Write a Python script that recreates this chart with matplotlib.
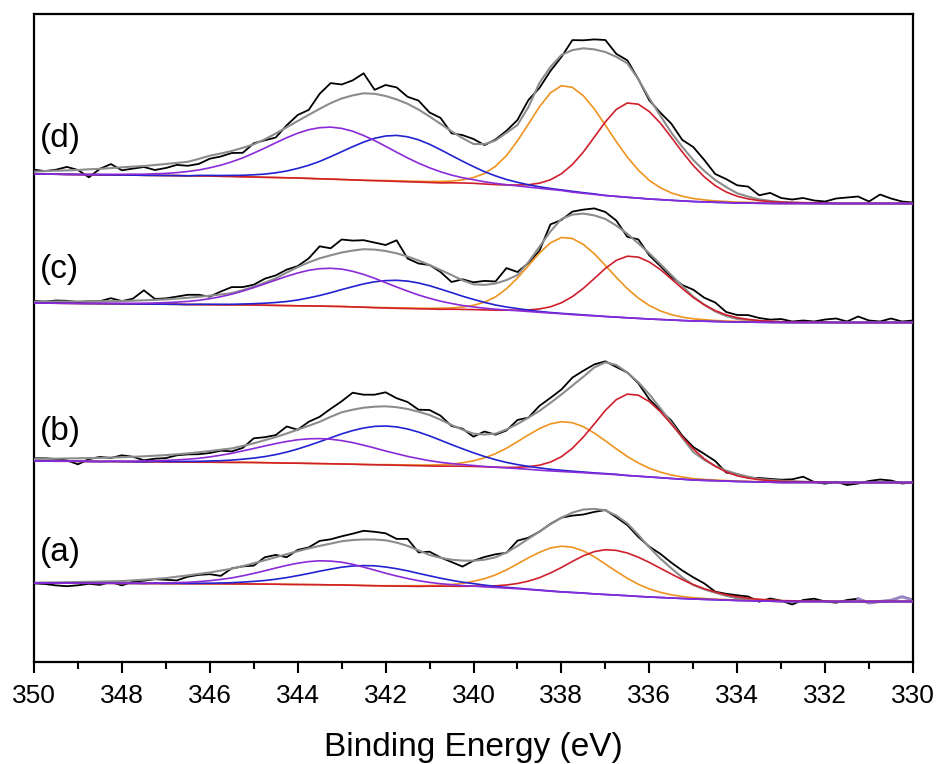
import numpy as np
import matplotlib
matplotlib.use("Agg")
import matplotlib.pyplot as plt
from matplotlib.ticker import MultipleLocator

plt.rcParams['font.family'] = ['Liberation Sans', 'DejaVu Sans']

# binding energy grid (eV), 0.25 eV steps from 350 down to 330
energy = np.linspace(350, 330, 81)

# ---------------- (d) ----------------
bg_d = [488, 487.9, 487.8, 487.6, 487.5, 487.4, 487.2, 487.1, 487, 486.9,
        486.7, 486.6, 486.5, 486.4, 486.2, 486.1, 486, 485.7, 485.5, 485.2,
        485, 484.7, 484.5, 484.2, 484, 483.6, 483.2, 482.9, 482.5, 482.1,
        481.7, 481.4, 481, 480.6, 480.2, 479.9, 479.5, 479.1, 478.7, 478.4,
        478, 477.2, 476.5, 475.7, 475, 474, 473, 472, 471, 469.9,
        468.7, 467.6, 466.5, 465.6, 464.7, 463.9, 463, 462.4, 461.7, 461.1,
        460.5, 460.1, 459.7, 459.4, 459, 458.9, 458.7, 458.6, 458.5] + [458.5] * 12
orange_d = [0] * 32 + [0.5, 0.6, 0.7, 0.8, 1.0, 1.5, 2.2, 3.7, 6.5, 11.3, 19.2, 30.7, 46.1, 64.0, 82.2, 97.1, 105.3,
                       104.7, 97.5, 85.4, 70.3, 54.7, 40.2, 28.0, 18.6, 11.9, 7.4, 4.7, 3.0, 2.0, 1.4, 1.1, 0.9, 0.8, 0.6] + [0] * 14
red_d = [0] * 38 + [0.5, 0.6, 0.7, 0.8, 0.9, 1.3, 2.0, 3.3, 5.8, 10.2, 17.2, 27.6, 41.3, 57.4, 73.6, 87.0, 94.3,
                    93.9, 87.4, 76.6, 63.0, 49.0, 36.0, 25.1, 16.6, 10.6, 6.7, 4.2, 2.7, 1.8, 1.3, 1.0, 0.8, 0.7, 0.6] + [0] * 8
blue_d = [0] * 15 + [0.5, 0.6, 0.8, 1.1, 1.5, 2.2, 3.2, 4.7, 6.8, 9.6, 13.1, 17.4, 22.4, 27.8, 33.2, 38.2, 42.3, 45.0, 46,
                     45.0, 42.3, 38.2, 33.2, 27.8, 22.4, 17.4, 13.1, 9.6, 6.8, 4.7, 3.2, 2.2, 1.5, 1.1, 0.8, 0.6, 0.5] + [0] * 29
purple_d = [0] * 6 + [0.5, 0.6, 0.7, 0.9, 1.1, 1.6, 2.1, 3.0, 4.3, 5.9, 8.2, 11.1, 14.7, 18.9, 23.9, 29.2, 34.7, 40.1, 44.8, 48.7, 51.1, 52,
                      51.1, 48.7, 44.8, 40.1, 34.7, 29.2, 23.9, 18.9, 14.7, 11.1, 8.2, 5.9, 4.3, 3.0, 2.1, 1.6, 1.1, 0.9, 0.7, 0.6, 0.5] + [0] * 32
envelope_d = [2.3, 3, 3.5, 4, 4.5, 5.3, 6, 6.8, 7.7, 8.5,
              9.3, 10.4, 11.5, 12.7, 14, 17, 20.3, 22.8, 25.5, 29,
              32.7, 38, 44, 50.5, 57, 63.5, 70, 76, 81, 84.5,
              87, 86.8, 85, 82, 78, 72.5, 66, 59, 52, 45.5,
              40, 40.7, 45, 53.5, 62, 81, 106, 123, 136, 142,
              145, 145, 143.5, 139.5, 134, 119, 100.7, 84, 67.7, 54,
              41.5, 31, 22.3, 15.5, 9.7, 6.5, 4, 2.5, 1.5, 1,
              0.5, 0, 0, 0, 0, 0, 0, 0, 0, 0, 0]
resid_d = [2, 0, 1, 3.5, 0, -8, 0, 4, -3, -2,
           -1, -5, -4, -2, -4, -5, -3, -3, -2, -5,
           1, -1, -4, 2, 6, 5, 15, 20, 14, 15,
           20, 4, 11, 12, 7, 9, 4, 6, -2, 3,
           5, -1, 1, 2, 5, 7, -5, -4, -2, 10,
           8, 10, 12, 3, 3, 0, -2, 3, 9, 7,
           13, 11, 6, 8, 8, 10, 4, 8, 4, 3,
           5, 3, 2, 5, 6, 7, 2, 9, 5, 2, 1]

# ---------------- (c) ----------------
bg_c = [359, 358.9, 358.8, 358.7, 358.6, 358.5, 358.4, 358.3, 358.2, 358.1,
        358, 357.9, 357.8, 357.7, 357.5, 357.4, 357.3, 357.2, 357.1, 357.1,
        357, 356.8, 356.6, 356.4, 356.2, 356.1, 355.9, 355.7, 355.5, 355.1,
        354.8, 354.4, 354, 353.7, 353.5, 353.2, 353, 352.7, 352.5, 352.2,
        352, 351.6, 351.2, 350.9, 350.5, 349.9, 349.2, 348.6, 348, 347.4,
        346.7, 346.1, 345.5, 344.9, 344.2, 343.6, 343, 342.5, 342, 341.5,
        341, 340.8, 340.5, 340.2, 340, 339.9, 339.7, 339.6, 339.5] + [339.5] * 12
orange_c = [0] * 32 + [0.4, 0.5, 0.5, 0.6, 0.7, 1.1, 1.6, 2.7, 4.7, 8.2, 13.9, 22.3, 33.5, 46.5, 59.7, 70.5, 76.5,
                       76.1, 70.8, 62.1, 51.1, 39.7, 29.2, 20.3, 13.5, 8.6, 5.4, 3.4, 2.2, 1.5, 1.0, 0.8, 0.6, 0.6, 0.5] + [0] * 14
red_c = [0] * 38 + [0.3, 0.4, 0.4, 0.5, 0.6, 0.9, 1.3, 2.2, 3.8, 6.6, 11.2, 18.0, 27.0, 37.4, 48.1, 56.8, 61.6,
                    61.3, 57.0, 50.0, 41.1, 32.0, 23.5, 16.4, 10.9, 6.9, 4.3, 2.7, 1.7, 1.2, 0.8, 0.7, 0.5, 0.5, 0.4] + [0] * 8
blue_c = [0] * 15 + [0.3, 0.4, 0.5, 0.6, 0.9, 1.3, 2.0, 2.9, 4.1, 5.8, 8.0, 10.6, 13.6, 16.9, 20.2, 23.3, 25.8, 27.4, 28,
                     27.4, 25.8, 23.3, 20.2, 16.9, 13.6, 10.6, 8.0, 5.8, 4.1, 2.9, 2.0, 1.3, 0.9, 0.6, 0.5, 0.4, 0.3] + [0] * 29
purple_c = [0] * 6 + [0.3, 0.4, 0.5, 0.6, 0.8, 1.1, 1.6, 2.2, 3.1, 4.3, 6.0, 8.1, 10.7, 13.8, 17.4, 21.3, 25.3, 29.3, 32.8, 35.6, 37.4, 38,
                      37.4, 35.6, 32.8, 29.3, 25.3, 21.3, 17.4, 13.8, 10.7, 8.1, 6.0, 4.3, 3.1, 2.2, 1.6, 1.1, 0.8, 0.6, 0.5, 0.4, 0.3] + [0] * 32
envelope_c = [1.3, 1.5, 1.7, 1.8, 2, 2.2, 2.4, 2.5, 2.7, 3.2,
              3.7, 4.2, 4.8, 5.7, 6.7, 7.8, 9, 10.3, 11.8, 14.8,
              18.3, 22.5, 27, 33, 38.7, 43.5, 47.8, 51, 54, 56.3,
              58, 58, 57, 55, 52, 48.3, 44, 39.3, 34.5, 29.5,
              25.7, 25.5, 27.3, 31, 36.5, 50, 66, 82, 95, 100,
              101.7, 100.5, 97.5, 91.5, 84, 75, 65.7, 55.5, 45, 34.5,
              24.3, 16.5, 10, 5.8, 3, 2, 1.3, 0.8, 0.5, 0,
              0, 0, 0, 0, 0, 0, 0, 0, 0, 0, 0]
resid_c = [0.7, 0, 1, 0.7, -0.7, 0, 0, 3, 0, 2,
           10, 1, 1, 2, 3, 2, -1, 3, 6, 3,
           2, 4, 3, 3, 1, 4, 12, 7, 13, 10,
           9, 7, 6, 13, -2, -3, 0, -2, -7, 1,
           2, 4, 2, 12, 3, -1, -4, 7, -1, 3,
           4, 7, 7, 5, -3, 4, -2, -2, -2, 1,
           7, 7, 9, 4, 4, 5, 3, 2, 3, 1,
           2, 1, 3, 4, 1, 6, 2, 1, 4, 1, 2]

# ---------------- (b) ----------------
bg_b = [201, 200.9, 200.8, 200.8, 200.7, 200.6, 200.5, 200.5, 200.4, 200.3,
        200.2, 200.2, 200.1, 200, 199.9, 199.8, 199.8, 199.7, 199.6, 199.6,
        199.5, 199.3, 199.1, 198.9, 198.8, 198.6, 198.4, 198.2, 198, 197.8,
        197.5, 197.3, 197, 196.8, 196.5, 196.3, 196, 195.8, 195.5, 195.3,
        195, 194.5, 194, 193.5, 193, 192.4, 191.8, 191.1, 190.5, 189.9,
        189.3, 188.6, 188, 187.3, 186.5, 185.8, 185, 184.3, 183.5, 182.8,
        182, 181.6, 181.3, 180.9, 180.5, 180.3, 180, 179.8, 179.5] + [179.5] * 12
orange_b = [0] * 32 + [0.4, 0.4, 0.6, 0.7, 1.0, 1.5, 2.4, 3.9, 6.2, 9.6, 14.3, 20.3, 27.3, 34.7, 41.6, 47.0, 49.8,
                       49.4, 46.0, 40.3, 33.2, 25.8, 19.0, 13.2, 8.8, 5.6, 3.5, 2.2, 1.4, 1.0, 0.7, 0.5, 0.4, 0.4, 0.3] + [0] * 14
red_b = [0] * 38 + [0.4, 0.5, 0.6, 0.7, 0.8, 1.1, 1.7, 2.9, 5.0, 8.8, 14.8, 23.8, 35.7, 49.5, 63.6, 75.1, 81.4,
                    81.0, 75.4, 66.1, 54.4, 42.3, 31.1, 21.6, 14.4, 9.2, 5.7, 3.6, 2.3, 1.6, 1.1, 0.9, 0.7, 0.6, 0.5] + [0] * 8
blue_b = [0] * 11 + [0.4, 0.4, 0.5, 0.7, 0.9, 1.2, 1.6, 2.3, 3.2, 4.4, 6.1, 8.3, 11.0, 14.2, 17.9, 21.9, 26.0, 30.1, 33.6, 36.5, 38.3, 39,
                     38.3, 36.5, 33.6, 30.1, 26.0, 21.9, 17.9, 14.2, 11.0, 8.3, 6.1, 4.4, 3.2, 2.3, 1.6, 1.2, 0.9, 0.7, 0.5, 0.4, 0.4] + [0] * 27
purple_b = [0] * 7 + [0.3, 0.4, 0.6, 0.8, 1.0, 1.5, 2.1, 2.9, 3.9, 5.3, 7.1, 9.1, 11.5, 14.0, 16.7, 19.3, 21.6, 23.4, 24.6, 25,
                      24.6, 23.4, 21.6, 19.3, 16.7, 14.0, 11.5, 9.1, 7.1, 5.3, 3.9, 2.9, 2.1, 1.5, 1.0, 0.8, 0.6, 0.4, 0.3] + [0] * 35
envelope_b = [2, 2.3, 2.5, 2.8, 3, 3.3, 3.6, 4, 4.3, 4.9,
              5.5, 6.1, 6.8, 7.7, 8.7, 10, 11.2, 12.6, 14, 16.5,
              19.2, 22.5, 25.8, 29.6, 33.5, 37.6, 41.8, 47, 51.7, 54.5,
              56.8, 58, 58.7, 58, 56.5, 54, 51, 46.5, 41.5, 37,
              33.3, 33, 34.3, 39, 45, 52, 59.3, 68, 77, 86.5,
              96, 106, 111.7, 109.7, 103, 94, 82.7, 69.5, 56, 41.5,
              28, 20.5, 14.7, 10.5, 7.5, 5, 3, 2.3, 1.8, 1.2,
              0.8, 0.5, 0.3, 0, 0, 0, 0, 0, 0, 0, 0]
resid_b = [0.7, 0.5, -0.3, -2, -6, -1, 1, -0.5, 2, 0,
           -4, -3, -3, -1, -1, -2, -2, -1, -3, -2,
           5, 3, 2, 7, 0, 4, 5, 8, 11, 17,
           13, 12, 14, 9, 7, 2, 5, 4, -1, 1,
           -3, 3, -1, -1, 4, 0, 5, 5, 5, 8,
           6, 3, 1, -2, 0, -1, -5, -2, 2, 2,
           5, 6, 5, -2, 0, -1, 1, 1, 1, 2,
           5, 0, -1.5, 0.7, -2.5, -1, 1.5, 3, 2, -1, 0]

# ---------------- (a) ----------------
bg_a = [79, 79, 78.9, 78.9, 78.8, 78.8, 78.7, 78.7, 78.6, 78.6,
        78.5, 78.5, 78.4, 78.4, 78.3, 78.3, 78.2, 78.2, 78.1, 78.1,
        78, 77.9, 77.8, 77.6, 77.5, 77.4, 77.3, 77.1, 77, 76.8,
        76.5, 76.3, 76, 75.9, 75.8, 75.6, 75.5, 75.4, 75.3, 75.1,
        75, 74.5, 74, 73.5, 73, 72.3, 71.5, 70.8, 70, 69.4,
        68.8, 68.1, 67.5, 66.9, 66.3, 65.6, 65, 64.5, 64, 63.5,
        63, 62.6, 62.3, 61.9, 61.5, 61.3, 61, 60.8, 60.5] + [60.5] * 12
orange_a = [0] * 32 + [0.3, 0.4, 0.5, 0.7, 0.9, 1.4, 2.2, 3.5, 5.7, 8.8, 13.1, 18.6, 25.1, 31.9, 38.2, 43.2, 45.8,
                       45.4, 42.3, 37.1, 30.5, 23.7, 17.4, 12.1, 8.1, 5.2, 3.2, 2.0, 1.3, 0.9, 0.6, 0.5, 0.4, 0.3, 0.3] + [0] * 14
red_a = [0] * 36 + [0.3, 0.4, 0.5, 0.6, 0.9, 1.4, 2.2, 3.5, 5.5, 8.6, 12.8, 18.2, 24.5, 31.2, 37.4, 42.3, 44.8,
                    44.7, 42.7, 39.2, 34.6, 29.3, 24.0, 18.9, 14.4, 10.7, 7.7, 5.4, 3.7, 2.5, 1.7, 1.2, 0.9, 0.7, 0.5, 0.5, 0.4] + [0] * 8
blue_a = [0] * 11 + [0.2, 0.2, 0.3, 0.3, 0.4, 0.6, 0.8, 1.2, 1.8, 2.6, 3.6, 5.0, 6.8, 8.9, 11.1, 13.5, 15.8, 17.8, 19.2, 19.9,
                     19.9, 19.0, 17.4, 15.4, 13.0, 10.7, 8.4, 6.4, 4.7, 3.4, 2.4, 1.6, 1.1, 0.8, 0.5, 0.4, 0.3, 0.2, 0.2, 0.2] + [0] * 30
purple_a = [0] * 7 + [0.2, 0.2, 0.3, 0.4, 0.5, 0.7, 1.0, 1.4, 2.1, 3.1, 4.4, 6.0, 8.1, 10.6, 13.3, 16.2, 19.0, 21.3, 23.0, 23.9,
                      23.8, 22.8, 20.9, 18.4, 15.6, 12.8, 10.1, 7.7, 5.7, 4.1, 2.9, 2.0, 1.3, 0.9, 0.6, 0.5, 0.4, 0.3, 0.2, 0.2] + [0] * 34
envelope_a = [0.3, 0.5, 0.7, 0.9, 1.2, 1.4, 1.7, 2, 2.3, 3,
              3.8, 4.6, 5.5, 6.9, 8.3, 9.8, 11.3, 13.2, 15.2, 17.8,
              20.7, 23.8, 27, 30.2, 33.3, 36.2, 38.8, 41.3, 43.7, 45.2,
              46, 46.2, 45.7, 43.5, 40.3, 36, 31.5, 28.8, 27, 26.3,
              26.3, 27.8, 30.7, 36, 43, 51, 58.8, 67, 74.3, 80,
              83.7, 85, 84.2, 79.5, 72.3, 61.5, 49.7, 39, 29.7, 21,
              14, 10, 7, 4.3, 2.2, 1.5, 1, 0.7, 0.5, 0,
              0, 0, 0, 0, 0, 0, 0, 0, 0, 0, 0]
resid_a = [-0.7, -1.5, -3, -4, -3.3, -2, -3.3, -0.7, -4.3, -1.3,
           -1, -0.3, -1.7, -3.7, -1.3, -1, -1.7, -5.3, 0.3, -0.3,
           -2.3, 3, 2.3, -3, 1.3, 1, 5, 4.3, 5, 6.3,
           8.7, 7.7, 7, 3.7, 7, -2, 3.3, 0.3, -2.3, -6,
           0, 2.7, 3, -0.3, 5.3, 1, 0, 0.3, 0, -3,
           -5, -3, 0.3, -1.7, -1.7, -2, 0.7, 4.7, 5.7, 7,
           7.7, 6, 1, 2, 3, 2.7, -1.7, 2, 0.3, -3,
           1.5, 2.8, 0, -1.2, 1.5, 2.8, -1.5, 0, 1.2, 4.8, 1.5]

panels = [
    ("(d)", bg_d, orange_d, red_d, blue_d, purple_d, envelope_d, resid_d, 523),
    ("(c)", bg_c, orange_c, red_c, blue_c, purple_c, envelope_c, resid_c, 393),
    ("(b)", bg_b, orange_b, red_b, blue_b, purple_b, envelope_b, resid_b, 231),
    ("(a)", bg_a, orange_a, red_a, blue_a, purple_a, envelope_a, resid_a, 109),
]

c_orange = '#ef931f'
c_red = '#d01f2c'
c_blue = '#2222d2'
c_purple = '#8a2ad8'
c_gray = '#8c8c8c'

fig = plt.figure(figsize=(9.39, 7.64), dpi=100)
ax = fig.add_axes([34 / 939, 1 - 662 / 764, 879 / 939, 648 / 764])

for label, bg, orange, red, blue, purple, env, resid, ylab in panels:
    bg = np.array(bg)
    fit = bg + np.array(env)
    raw = fit + np.array(resid)
    ax.plot(energy, raw, color='black', lw=1.3, zorder=2)
    if label == "(a)":
        ax.plot(energy[75:], raw[75:], color='#9b85c4', lw=2.2, zorder=2.5)
    ax.plot(energy, fit, color=c_gray, lw=1.5, zorder=3)
    ax.plot(energy, bg + np.array(orange), color=c_orange, lw=1.2, zorder=4)
    ax.plot(energy, bg + np.array(red), color=c_red, lw=1.2, zorder=4)
    ax.plot(energy, bg + np.array(blue), color=c_blue, lw=1.2, zorder=4)
    ax.plot(energy, bg + np.array(purple), color=c_purple, lw=1.2, zorder=4)
    ax.text(349.86, ylab, label, fontsize=24, ha='left', va='center')

ax.set_xlim(350, 330)
ax.set_ylim(0, 648)
ax.set_yticks([])
ax.xaxis.set_major_locator(MultipleLocator(2))
ax.xaxis.set_minor_locator(MultipleLocator(1))
ax.tick_params(axis='x', which='major', direction='out', length=8, width=1.5,
               labelsize=19, pad=8)
ax.tick_params(axis='x', which='minor', direction='out', length=5, width=1.5)
for sp in ax.spines.values():
    sp.set_linewidth(1.6)
ax.set_xlabel("Binding Energy (eV)", fontsize=24, labelpad=17)

plt.savefig("out.png", dpi=100)
